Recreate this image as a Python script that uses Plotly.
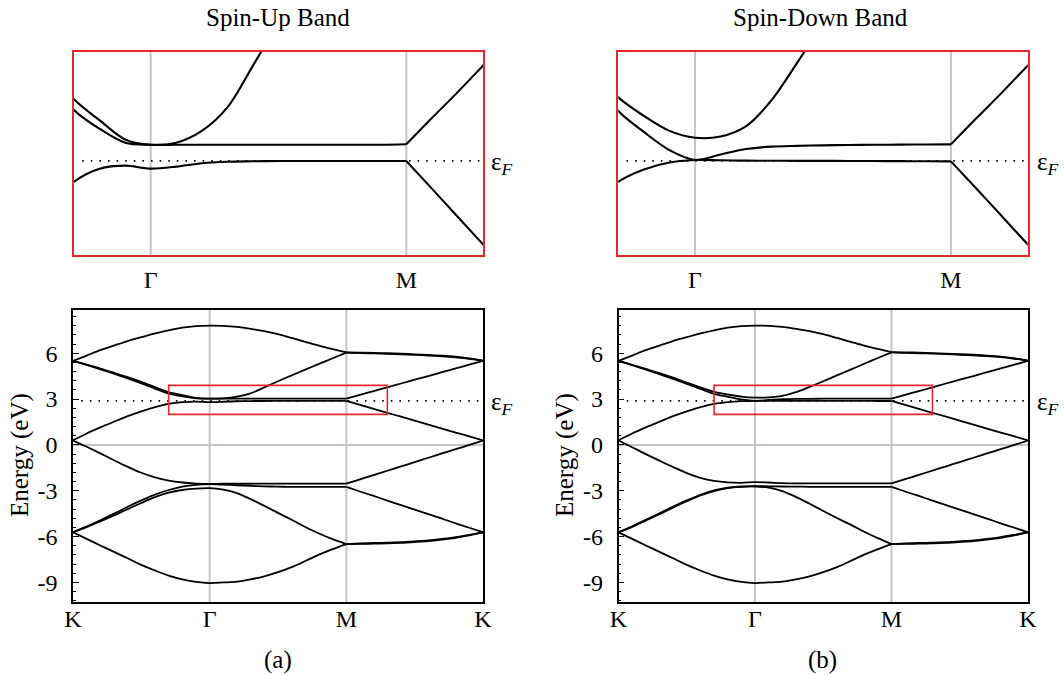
import plotly.graph_objects as go

W, H = 1064, 675

# ---------------- data ----------------
# positions along the path K-Γ-M-K (Γ at 1, M at 2)
k_path = [0.0, 0.1, 0.2, 0.3, 0.4, 0.5, 0.6, 0.7, 0.8, 0.9, 1.0,
          1.1, 1.2, 1.3, 1.4, 1.5, 1.6, 1.7, 1.8, 1.9, 2.0,
          2.1, 2.2, 2.3, 2.4, 2.5, 2.6, 2.7, 2.8, 2.9, 3.0]
k_ticks = [0, 1, 2, 3]
k_labels = ["K", "Γ", "M", "K"]
inset_ticks = [1, 2]
inset_labels = ["Γ", "M"]
e_ticks = [-9, -6, -3, 0, 3, 6]
e_labels = ["-9", "-6", "-3", "0", "3", "6"]
e_range = [-10.3, 8.85]
fermi = 2.88
zoom_k = [0.7, 2.3]
zoom_e = [2.0, 3.9]

# spin-up bands (eV)
up_b1 = [5.50, 5.85, 6.20, 6.50, 6.80, 7.05, 7.30, 7.50, 7.67, 7.77, 7.81,
         7.79, 7.72, 7.60, 7.45, 7.25, 7.00, 6.75, 6.50, 6.27, 6.05,
         6.04, 6.03, 6.00, 5.97, 5.93, 5.89, 5.84, 5.77, 5.66, 5.52]
up_b2 = [5.50, 5.25, 5.00, 4.72, 4.43, 4.12, 3.78, 3.455, 3.26, 3.08, 3.03,
         3.05, 3.16, 3.38, 3.77, 4.17, 4.55, 4.93, 5.30, 5.67, 6.04,
         6.01, 5.99, 5.96, 5.93, 5.89, 5.85, 5.80, 5.73, 5.63, 5.52]
up_b3 = [5.50, 5.23, 4.95, 4.66, 4.35, 4.03, 3.69, 3.355, 3.18, 3.05, 3.03,
         3.03, 3.03, 3.03, 3.03, 3.03, 3.03, 3.03, 3.03, 3.03, 3.035,
         3.28, 3.52, 3.77, 4.02, 4.27, 4.51, 4.76, 5.01, 5.25, 5.50]
up_b4 = [0.30, 0.75, 1.15, 1.52, 1.88, 2.20, 2.47, 2.685, 2.805, 2.835, 2.807,
         2.826, 2.858, 2.872, 2.876, 2.878, 2.878, 2.878, 2.878, 2.878, 2.878,
         2.62, 2.36, 2.10, 1.85, 1.59, 1.33, 1.07, 0.81, 0.56, 0.30]
up_b5 = [0.29, -0.12, -0.55, -1.00, -1.43, -1.82, -2.12, -2.33, -2.46, -2.53, -2.55,
         -2.54, -2.54, -2.54, -2.53, -2.53, -2.53, -2.53, -2.53, -2.53, -2.53,
         -2.25, -1.97, -1.69, -1.41, -1.13, -0.84, -0.56, -0.28, 0.00, 0.29]
up_b6 = [-5.72, -5.33, -4.93, -4.50, -4.05, -3.63, -3.25, -2.95, -2.73, -2.61, -2.57,
         -2.60, -2.64, -2.68, -2.71, -2.73, -2.75, -2.75, -2.75, -2.75, -2.75,
         -3.05, -3.34, -3.64, -3.94, -4.24, -4.53, -4.83, -5.13, -5.42, -5.72]
up_b7 = [-5.72, -5.38, -5.00, -4.62, -4.20, -3.80, -3.42, -3.12, -2.95, -2.86, -2.83,
         -2.92, -3.15, -3.55, -3.99, -4.45, -4.90, -5.37, -5.80, -6.17, -6.49,
         -6.48, -6.46, -6.44, -6.41, -6.36, -6.30, -6.20, -6.08, -5.92, -5.72]
up_b8 = [-5.72, -6.15, -6.58, -7.00, -7.42, -7.85, -8.22, -8.55, -8.80, -8.97, -9.04,
         -9.00, -8.95, -8.80, -8.60, -8.33, -8.00, -7.60, -7.18, -6.82, -6.49,
         -6.45, -6.42, -6.39, -6.36, -6.31, -6.25, -6.15, -6.03, -5.88, -5.72]

# spin-down bands (eV)
dn_b1 = [5.50, 5.85, 6.20, 6.50, 6.80, 7.05, 7.30, 7.50, 7.67, 7.77, 7.81,
         7.79, 7.72, 7.60, 7.45, 7.25, 7.00, 6.75, 6.50, 6.28, 6.07,
         6.06, 6.04, 6.01, 5.98, 5.94, 5.90, 5.85, 5.78, 5.67, 5.52]
dn_b2 = [5.50, 5.24, 4.97, 4.70, 4.40, 4.08, 3.76, 3.473, 3.30, 3.16, 3.096,
         3.108, 3.205, 3.45, 3.80, 4.17, 4.55, 4.93, 5.31, 5.69, 6.06,
         6.02, 6.00, 5.97, 5.94, 5.90, 5.86, 5.81, 5.74, 5.64, 5.52]
dn_b3 = [5.50, 5.22, 4.93, 4.63, 4.32, 4.00, 3.67, 3.345, 3.15, 2.98, 2.888,
         2.94, 2.99, 3.013, 3.02, 3.025, 3.028, 3.03, 3.032, 3.033, 3.034,
         3.28, 3.52, 3.77, 4.02, 4.27, 4.51, 4.76, 5.01, 5.25, 5.50]
dn_b4 = [0.30, 0.75, 1.15, 1.52, 1.88, 2.20, 2.47, 2.685, 2.80, 2.865, 2.888,
         2.885, 2.882, 2.881, 2.880, 2.880, 2.879, 2.878, 2.877, 2.876, 2.875,
         2.62, 2.36, 2.10, 1.85, 1.59, 1.33, 1.07, 0.81, 0.56, 0.30]
dn_b5 = [0.29, -0.15, -0.60, -1.03, -1.45, -1.84, -2.15, -2.35, -2.45, -2.48, -2.43,
         -2.46, -2.50, -2.52, -2.52, -2.52, -2.52, -2.52, -2.52, -2.52, -2.52,
         -2.24, -1.96, -1.68, -1.40, -1.12, -0.84, -0.56, -0.28, 0.00, 0.29]
dn_b6 = [-5.72, -5.33, -4.90, -4.48, -4.04, -3.63, -3.26, -2.98, -2.80, -2.72, -2.70,
         -2.71, -2.72, -2.73, -2.74, -2.75, -2.75, -2.75, -2.75, -2.75, -2.75,
         -3.05, -3.34, -3.64, -3.94, -4.24, -4.53, -4.83, -5.13, -5.42, -5.72]
dn_b7 = [-5.72, -5.36, -4.95, -4.54, -4.10, -3.69, -3.31, -3.02, -2.83, -2.74, -2.72,
         -2.80, -3.02, -3.40, -3.85, -4.32, -4.78, -5.22, -5.68, -6.10, -6.49,
         -6.48, -6.46, -6.44, -6.41, -6.36, -6.30, -6.20, -6.08, -5.92, -5.72]
dn_b8 = [-5.72, -6.15, -6.58, -7.00, -7.42, -7.85, -8.22, -8.55, -8.80, -8.97, -9.04,
         -9.00, -8.95, -8.80, -8.60, -8.33, -8.00, -7.60, -7.18, -6.82, -6.49,
         -6.45, -6.42, -6.39, -6.36, -6.31, -6.25, -6.15, -6.03, -5.88, -5.72]

spin_up = [up_b1, up_b2, up_b3, up_b4, up_b5, up_b6, up_b7, up_b8]
spin_dn = [dn_b1, dn_b2, dn_b3, dn_b4, dn_b5, dn_b6, dn_b7, dn_b8]

# ---------------- styling ----------------
FONT = "Liberation Serif"
RED = "#e8262b"
GRAY = "#c3c3cb"
TICK_SIZE = 24
TEXT_SIZE = 25
i_M = k_path.index(2.0)


def px(x):
    return x / W


def py(y):
    return 1 - y / H


fig = go.Figure()

panels = [
    (spin_up, "x", "y", 1.8),
    (spin_dn, "x2", "y2", 1.8),
    (spin_up, "x3", "y3", 2.1),
    (spin_dn, "x4", "y4", 2.1),
]
for bands, xa, ya, lw in panels:
    for b in bands:
        for seg in (slice(0, i_M + 1), slice(i_M, len(k_path))):
            fig.add_trace(go.Scatter(
                x=k_path[seg], y=b[seg], mode="lines", xaxis=xa, yaxis=ya,
                line=dict(color="black", width=lw, shape="spline", smoothing=0.9),
                showlegend=False, hoverinfo="skip"))

shapes = []
for xa, ya, main in (("x", "y", True), ("x2", "y2", True), ("x3", "y3", False), ("x4", "y4", False)):
    for kv in (1, 2):
        shapes.append(dict(type="line", xref=xa, yref=ya + " domain", x0=kv, x1=kv, y0=0, y1=1,
                           line=dict(color=GRAY, width=2), layer="below"))
    if main:
        shapes.append(dict(type="line", xref=xa + " domain", yref=ya, x0=0, x1=1, y0=0, y1=0,
                           line=dict(color=GRAY, width=2), layer="below"))
        shapes.append(dict(type="rect", xref=xa, yref=ya, x0=zoom_k[0], x1=zoom_k[1],
                           y0=zoom_e[0], y1=zoom_e[1], line=dict(color=RED, width=1.6)))
    shapes.append(dict(type="line", xref=xa + " domain", yref=ya, x0=0.02, x1=1, y0=fermi, y1=fermi,
                       line=dict(color="black", width=1.6, dash="1.6px,7px"), layer="below"))

main_x = dict(range=[0, 3], tickmode="array", tickvals=k_ticks, ticktext=k_labels, ticks="",
              showline=True, linecolor="black", linewidth=1.5, mirror=True, showgrid=False,
              zeroline=False, tickfont=dict(family=FONT, size=TICK_SIZE, color="black"),
              ticklabelstandoff=-6, automargin=False)
main_y = dict(range=e_range, tickmode="array", tickvals=e_ticks, ticktext=e_labels,
              ticks="inside", ticklen=6, tickwidth=1.2, tickcolor="black",
              minor=dict(tickmode="linear", tick0=0, dtick=0.6, ticks="inside", ticklen=3,
                         tickwidth=1, tickcolor="black", showgrid=False),
              showline=True, linecolor="black", linewidth=1.5, mirror=True, showgrid=False,
              zeroline=False, tickfont=dict(family=FONT, size=TICK_SIZE, color="black"),
              ticklabelstandoff=9, automargin=False)
inset_x = dict(range=zoom_k, tickmode="array", tickvals=inset_ticks, ticktext=inset_labels,
               ticks="", showline=True, linecolor=RED, linewidth=2, mirror=True, showgrid=False,
               zeroline=False, tickfont=dict(family=FONT, size=TICK_SIZE, color="black"),
               ticklabelstandoff=2, automargin=False)
inset_y = dict(range=zoom_e, showticklabels=False, ticks="", showline=True, linecolor=RED,
               linewidth=2, mirror=True, showgrid=False, zeroline=False, automargin=False)

top_dom = [py(255), py(51.7)]
bot_dom = [py(602.3), py(309.7)]
L_main = [px(73), px(483)]
R_main = [px(618.5), px(1028)]
L_ins = [px(74), px(483)]
R_ins = [px(618.3), px(1027.7)]

fig.update_layout(
    width=W, height=H, margin=dict(l=0, r=0, t=0, b=0, autoexpand=False),
    paper_bgcolor="white", plot_bgcolor="white",
    font=dict(family=FONT, color="black"),
    xaxis=dict(main_x, domain=L_main, anchor="y"),
    yaxis=dict(main_y, domain=bot_dom, anchor="x"),
    xaxis2=dict(main_x, domain=R_main, anchor="y2"),
    yaxis2=dict(main_y, domain=bot_dom, anchor="x2"),
    xaxis3=dict(inset_x, domain=L_ins, anchor="y3"),
    yaxis3=dict(inset_y, domain=top_dom, anchor="x3"),
    xaxis4=dict(inset_x, domain=R_ins, anchor="y4"),
    yaxis4=dict(inset_y, domain=top_dom, anchor="x4"),
    shapes=shapes,
)

ann = []


def text(x, y, s, size=TEXT_SIZE, **kw):
    d = dict(x=px(x), y=py(y), xref="paper", yref="paper", text=s, showarrow=False,
             xanchor="center", yanchor="middle",
             font=dict(family=FONT, size=size, color="black"))
    d.update(kw)
    ann.append(d)


text(278, 18, "Spin-Up Band")
text(820, 18, "Spin-Down Band")
text(278, 660, "(a)")
text(822, 660, "(b)")
text(20, 455, "Energy (eV)", textangle=-90)
text(565, 455, "Energy (eV)", textangle=-90)

eps = "ε<sub><i>F</i></sub>"
for xa, ya, xl in (("x", "y", 489), ("x2", "y2", 1035), ("x3", "y3", 489), ("x4", "y4", 1035)):
    ann.append(dict(x=px(xl), y=fermi, xref="paper", yref=ya, text=eps, showarrow=False,
                    xanchor="left", yanchor="middle", yshift=-3,
                    font=dict(family=FONT, size=TEXT_SIZE, color="black")))

fig.update_layout(annotations=ann)
fig.write_html("out.html")
